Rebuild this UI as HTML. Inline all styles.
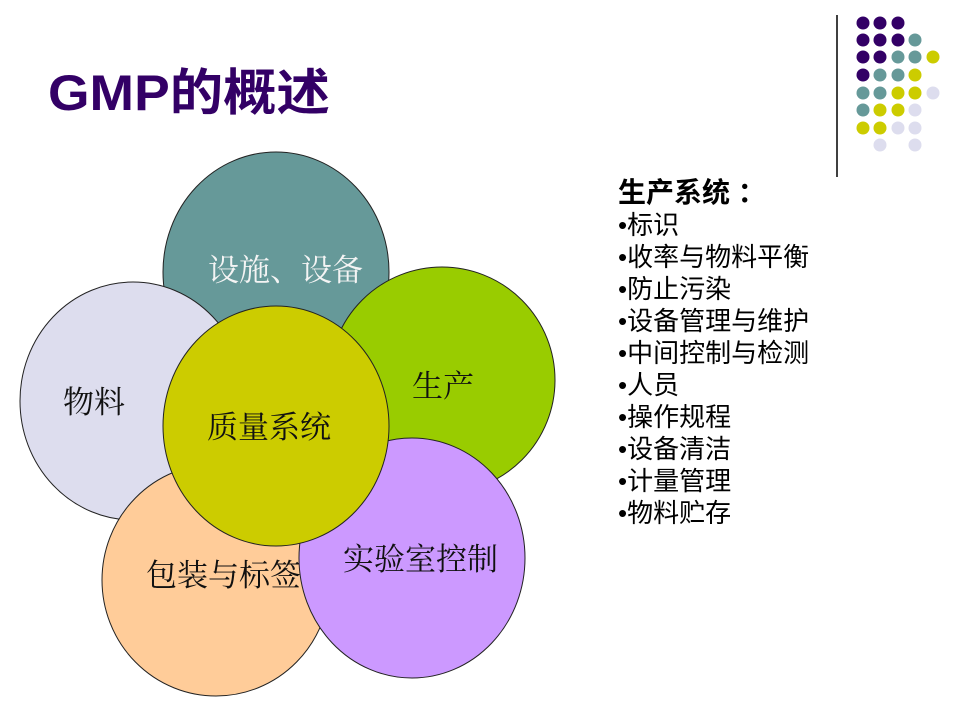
<!DOCTYPE html>
<html><head><meta charset="utf-8"><style>
body{margin:0;background:#fff;}
svg{display:block;}
</style></head><body>
<svg width="960" height="720" viewBox="0 0 960 720" xmlns="http://www.w3.org/2000/svg" font-family="'Liberation Sans','Noto Sans CJK SC',sans-serif">
<rect width="960" height="720" fill="#fff"/>
<text x="48" y="110" font-size="50" font-weight="bold" fill="#330066" textLength="282" lengthAdjust="spacingAndGlyphs">GMP的概述</text>
<line x1="837" y1="15" x2="837" y2="177" stroke="#000" stroke-width="1.5"/>
<g>
<circle cx="863" cy="23" r="6.5" fill="#330066"/><circle cx="880" cy="23" r="6.5" fill="#330066"/><circle cx="898" cy="23" r="6.5" fill="#330066"/>
<circle cx="863" cy="40" r="6.5" fill="#330066"/><circle cx="880" cy="40" r="6.5" fill="#330066"/><circle cx="898" cy="40" r="6.5" fill="#330066"/><circle cx="915" cy="40" r="6.5" fill="#669999"/>
<circle cx="863" cy="57" r="6.5" fill="#330066"/><circle cx="880" cy="57" r="6.5" fill="#330066"/><circle cx="898" cy="57" r="6.5" fill="#669999"/><circle cx="915" cy="57" r="6.5" fill="#669999"/><circle cx="933" cy="57" r="6.5" fill="#CCCC00"/>
<circle cx="863" cy="75" r="6.5" fill="#330066"/><circle cx="880" cy="75" r="6.5" fill="#669999"/><circle cx="898" cy="75" r="6.5" fill="#669999"/><circle cx="915" cy="75" r="6.5" fill="#CCCC00"/>
<circle cx="863" cy="93" r="6.5" fill="#669999"/><circle cx="880" cy="93" r="6.5" fill="#669999"/><circle cx="898" cy="93" r="6.5" fill="#CCCC00"/><circle cx="915" cy="93" r="6.5" fill="#CCCC00"/><circle cx="933" cy="93" r="6.5" fill="#DDDDEE"/>
<circle cx="863" cy="110" r="6.5" fill="#669999"/><circle cx="880" cy="110" r="6.5" fill="#CCCC00"/><circle cx="898" cy="110" r="6.5" fill="#CCCC00"/><circle cx="915" cy="110" r="6.5" fill="#DDDDEE"/>
<circle cx="863" cy="128" r="6.5" fill="#CCCC00"/><circle cx="880" cy="128" r="6.5" fill="#CCCC00"/><circle cx="898" cy="128" r="6.5" fill="#DDDDEE"/><circle cx="915" cy="128" r="6.5" fill="#DDDDEE"/>
<circle cx="880" cy="145" r="6.5" fill="#DDDDEE"/><circle cx="915" cy="145" r="6.5" fill="#DDDDEE"/>
</g>
<g font-size="31" fill="#111" font-family="'Liberation Serif','Noto Serif CJK SC',serif">
<ellipse cx="276" cy="272" rx="113" ry="120" fill="#669999" stroke="#222"/>
<text x="208" y="281" fill="#f4f4f4">设施、设备</text>
<ellipse cx="133" cy="401" rx="113" ry="119" fill="#DDDDEE" stroke="#222"/>
<text x="63" y="413">物料</text>
<ellipse cx="442" cy="380" rx="113" ry="113" fill="#99CC00" stroke="#222"/>
<text x="412" y="397">生产</text>
<ellipse cx="216" cy="580" rx="114" ry="116" fill="#FFCC99" stroke="#222"/>
<text x="146" y="586">包装与标签</text>
<ellipse cx="412" cy="558" rx="113" ry="120" fill="#CC99FF" stroke="#222"/>
<text x="343" y="570">实验室控制</text>
<ellipse cx="276" cy="426" rx="113" ry="120" fill="#CCCC00" stroke="#222"/>
<text x="207" y="438">质量系统</text>
</g>
<g font-size="26" fill="#000">
<text x="618" y="202" font-weight="bold" font-size="28">生产系统 ：</text>
<text x="618" y="234">•标识</text>
<text x="618" y="266">•收率与物料平衡</text>
<text x="618" y="298">•防止污染</text>
<text x="618" y="330">•设备管理与维护</text>
<text x="618" y="362">•中间控制与检测</text>
<text x="618" y="394">•人员</text>
<text x="618" y="426">•操作规程</text>
<text x="618" y="458">•设备清洁</text>
<text x="618" y="490">•计量管理</text>
<text x="618" y="522">•物料贮存</text>
</g>
</svg>
</body></html>
